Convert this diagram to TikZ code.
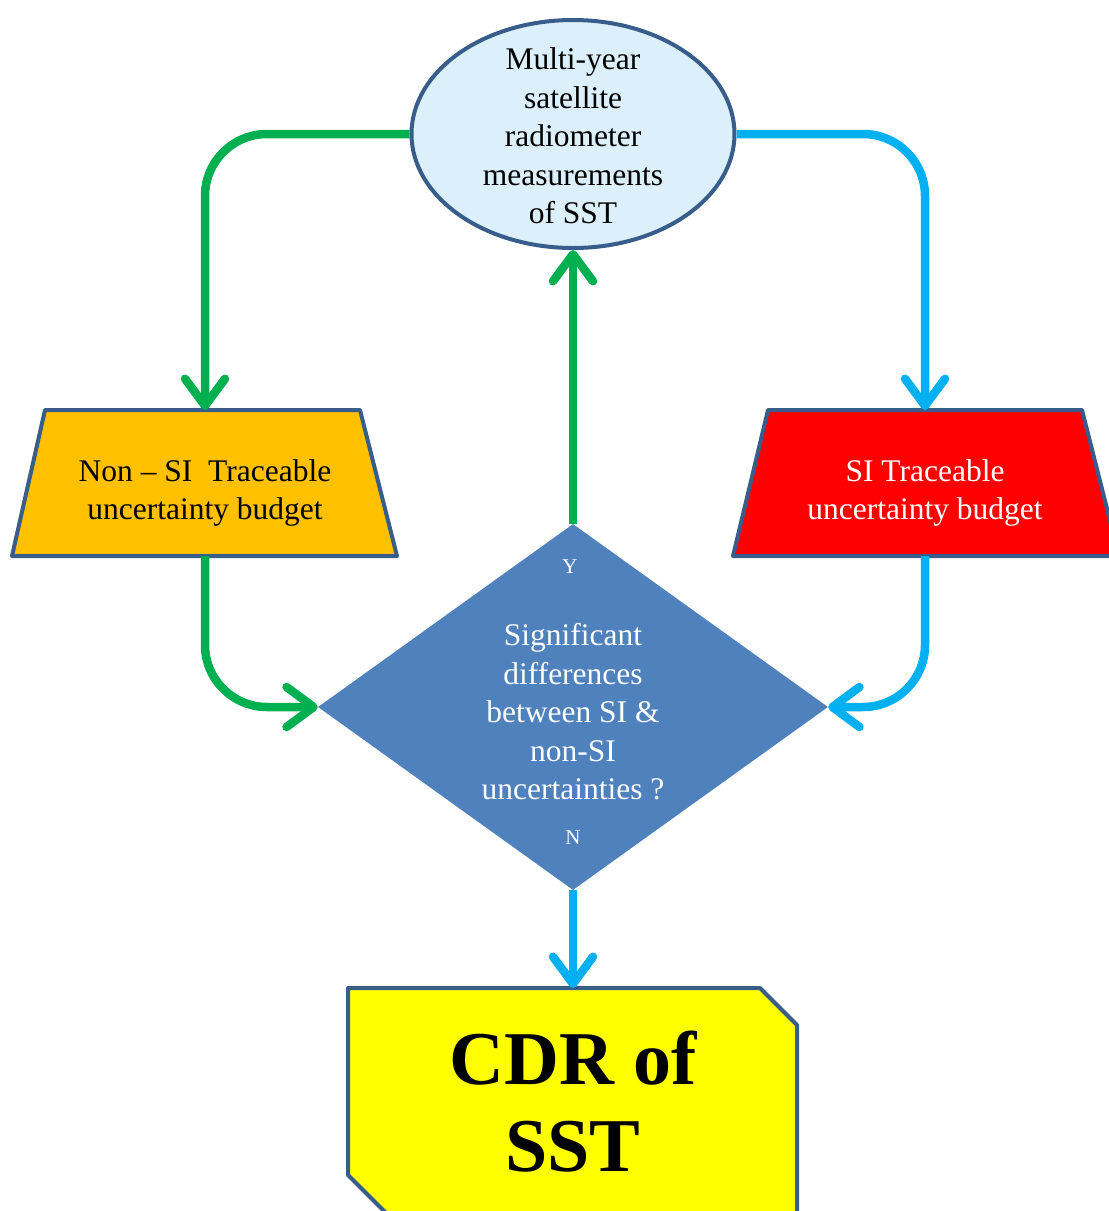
\documentclass[tikz,border=0pt]{standalone}
\usepackage{fontspec}
\setmainfont{Liberation Serif}
\usetikzlibrary{shapes.geometric,arrows.meta}
\definecolor{bord}{HTML}{385D8A}
\definecolor{ellfill}{HTML}{DBF0FA}
\definecolor{gr}{HTML}{00B050}
\definecolor{bl}{HTML}{00B0F0}
\definecolor{orng}{HTML}{FFC000}
\definecolor{dia}{HTML}{4F81BD}
\definecolor{ylw}{HTML}{FFFF00}
\tikzset{
  shapeline/.style={draw=bord,line width=4pt,line join=round},
  conn/.style={line width=8.5pt,rounded corners=62pt,-{Straight Barb[length=27pt,width=40pt,round]}},
  conng/.style={conn,draw=gr},
  connb/.style={conn,draw=bl},
  txt/.style={align=center,font=\fontsize{31.5}{38.5}\selectfont,inner sep=0pt},
}
\begin{document}
\begin{tikzpicture}[x=1pt,y=-1pt]
\useasboundingbox (0,0) rectangle (1109,1211);
% ellipse
\node[ellipse,shapeline,fill=ellfill,minimum width=323pt,minimum height=228pt,inner sep=0pt] (ell) at (573,134) {};
\node[txt] (elltxt) at (573,136) {Multi-year\\satellite\\radiometer\\measurements\\of SST};
% left trapezoid
\filldraw[shapeline,fill=orng] (45,410) -- (360,410) -- (397,556) -- (12,556) -- cycle;
\coordinate (ltop) at (205,410);
\coordinate (lbot) at (205,556);
\node[txt] (ltxt) at (205,493) {Non -- SI\ \ Traceable\\uncertainty budget};
% right trapezoid
\begin{scope}
\clip (0,0) rectangle (1109,1211);
\filldraw[shapeline,fill=red] (768,410) -- (1082,410) -- (1119,556) -- (733,556) -- cycle;
\end{scope}
\coordinate (rtop) at (925,410);
\coordinate (rbot) at (925,556);
\node[txt,text=white] (rtxt) at (925,493) {SI Traceable\\uncertainty budget};
% diamond
\node[diamond,fill=dia,minimum width=510pt,minimum height=366pt,inner sep=0pt] (dmd) at (573,707) {};
\node[txt,text=white] (dtxt) at (573,712) {Significant\\differences\\between SI \&\\non-SI\\uncertainties ?};
\node[text=white,font=\fontsize{21}{24}\selectfont,inner sep=0pt] (ylab) at (570,567) {Y};
\node[text=white,font=\fontsize{21}{24}\selectfont,inner sep=0pt] (nlab) at (573,838) {N};
% bottom box
\begin{scope}
\clip (0,0) rectangle (1109,1211);
\filldraw[shapeline,fill=ylw] (348,988) -- (760,988) -- (797,1025) -- (797,1216) -- (389,1216) -- (348,1175) -- cycle;
\end{scope}
\coordinate (btop) at (573,988);
\node[align=center,inner sep=0pt,font=\fontsize{76}{87}\selectfont\bfseries] (cdr) at (573,1102) {CDR of\\SST};
% connectors
\draw[conng] (ell.west) -| (ltop);
\draw[conng] (lbot) |- (dmd.west);
\draw[conng] (dmd.north) -- (ell.south);
\draw[connb] (ell.east) -| (rtop);
\draw[connb] (rbot) |- (dmd.east);
\draw[connb] (dmd.south) -- (btop);
\end{tikzpicture}
\end{document}
